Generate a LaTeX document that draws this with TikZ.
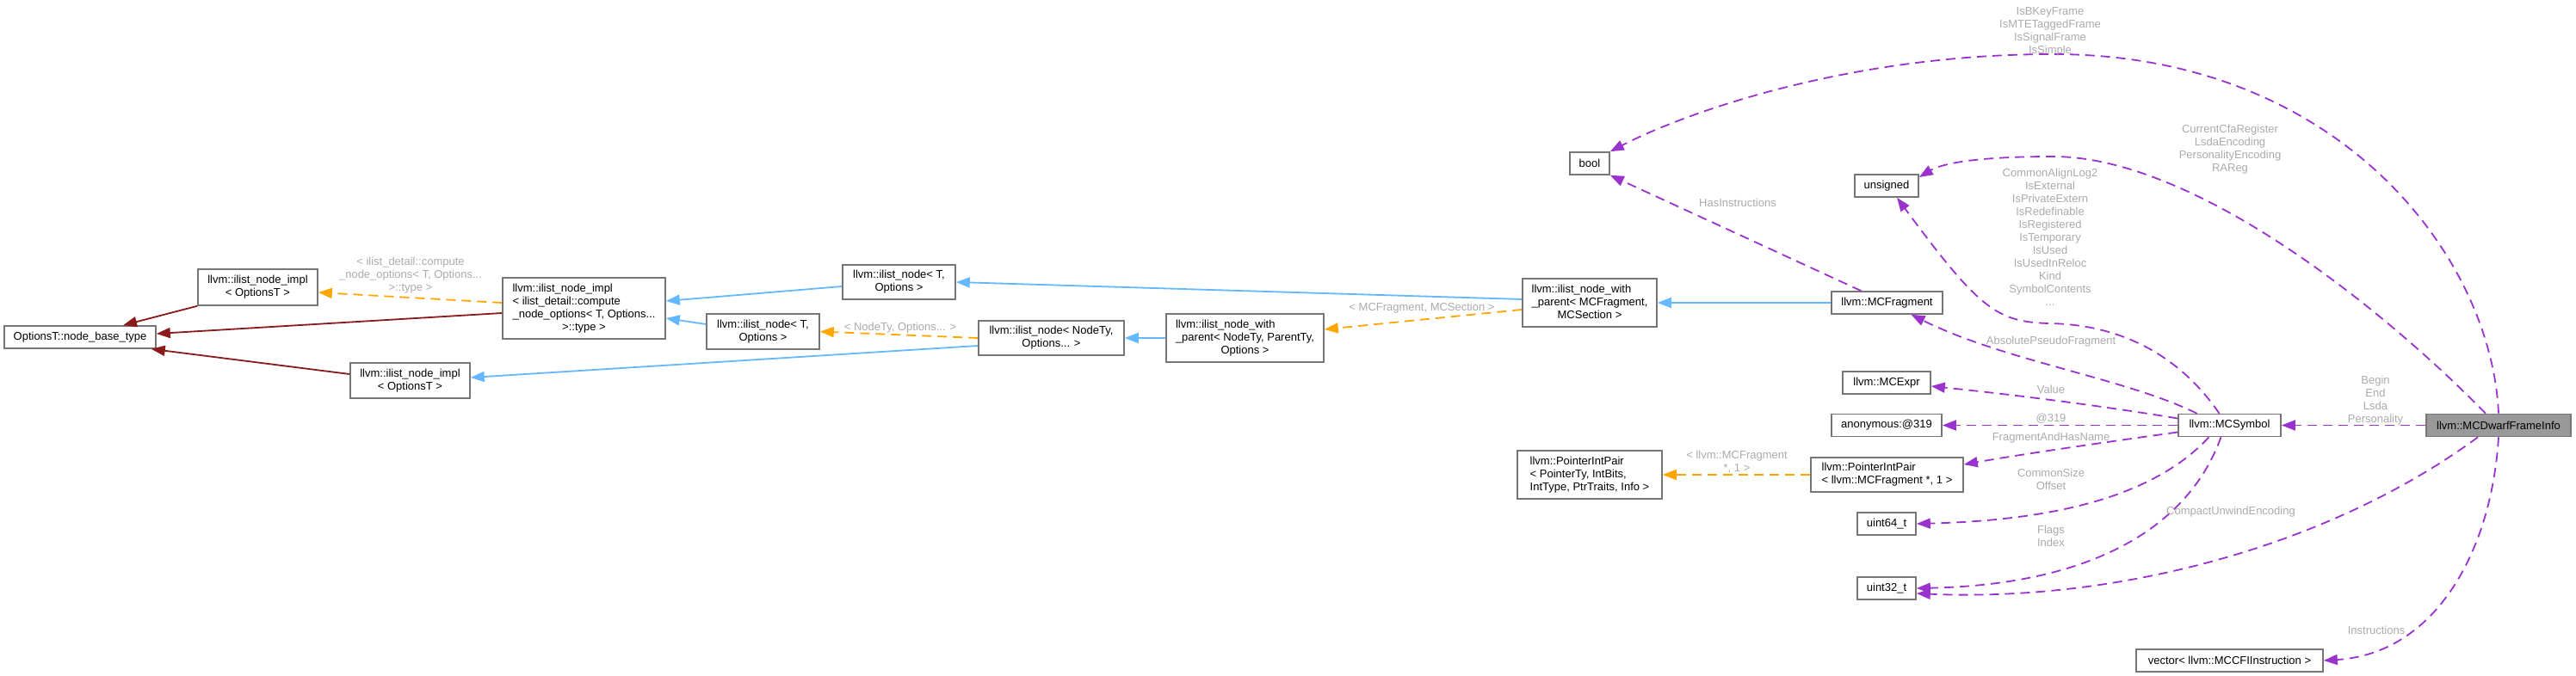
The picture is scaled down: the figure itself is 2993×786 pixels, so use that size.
\documentclass[tikz,border=0pt]{standalone}
\usepackage{fontspec}
\setmainfont{Liberation Sans}
\usetikzlibrary{arrows.meta}
\definecolor{eblue}{HTML}{63B8FF}
\definecolor{ered}{HTML}{8B1A1A}
\definecolor{eorange}{HTML}{FFA500}
\definecolor{epurple}{HTML}{9A32CD}
\definecolor{lblgray}{HTML}{ABABAB}
\definecolor{boxline}{HTML}{767676}
\definecolor{hifill}{HTML}{999999}
\newcommand\dgfont{\fontsize{6.5}{7.5}\selectfont}
\newcommand\lt[1]{\begin{tabular}{@{}l@{}}#1\end{tabular}}
\begin{document}
\begin{tikzpicture}[x=0.5pt,y=-0.5pt,
  box/.style={draw=boxline, line width=0.8pt, fill=white, inner sep=0pt, font=\dgfont, align=center},
  lbl/.style={font=\dgfont, text=lblgray, align=center, inner sep=0pt},
  edge/.style={line width=0.9pt, -{Triangle[length=8pt,width=6pt]}},
  pubinh/.style={edge, draw=eblue},
  privinh/.style={edge, draw=ered},
  tmpl/.style={edge, draw=eorange, dash pattern=on 5.5pt off 3.5pt},
  usage/.style={edge, draw=epurple, dash pattern=on 5.5pt off 3.5pt},
]
\useasboundingbox (0,0) rectangle (2993,786);
\fill[white] (0,0) rectangle (2993,786);

% nodes
\node[box, minimum width=88pt, minimum height=13pt] (A) at (93,392) {OptionsT::node\_base\_type};
\node[box, minimum width=69.5pt, minimum height=21pt] (B) at (299.5,334) {llvm::ilist\_node\_impl\\< OptionsT >};
\node[box, minimum width=94.5pt, minimum height=35.5pt] (C) at (678.5,358.5) {\begin{tabular}{@{}l@{}}llvm::ilist\_node\_impl\\< ilist\_detail::compute\\\_node\_options< T, Options...\\\multicolumn{1}{@{}c@{}}{>::type >}\end{tabular}};
\node[box, minimum width=69.5pt, minimum height=20.5pt] (D) at (476.5,442.5) {llvm::ilist\_node\_impl\\< OptionsT >};
\node[box, minimum width=65.5pt, minimum height=20pt] (E) at (1044.5,328) {llvm::ilist\_node< T,\\Options >};
\node[box, minimum width=65.5pt, minimum height=20.5pt] (F) at (886.5,385.5) {llvm::ilist\_node< T,\\Options >};
\node[box, minimum width=84.5pt, minimum height=20pt] (G) at (1221.5,393) {llvm::ilist\_node< NodeTy,\\Options... >};
\node[box, minimum width=91.5pt, minimum height=28pt] (H) at (1446.5,393) {\begin{tabular}{@{}l@{}}llvm::ilist\_node\_with\\\_parent< NodeTy, ParentTy,\\\multicolumn{1}{@{}c@{}}{Options >}\end{tabular}};
\node[box, minimum width=78pt, minimum height=28pt] (I) at (1847,352) {\begin{tabular}{@{}l@{}}llvm::ilist\_node\_with\\\_parent< MCFragment,\\\multicolumn{1}{@{}c@{}}{MCSection >}\end{tabular}};
\node[box, minimum width=23pt, minimum height=13pt] (J) at (1847,190) {bool};
\node[box, minimum width=37pt, minimum height=13pt] (K) at (2192,216) {unsigned};
\node[box, minimum width=64.5pt, minimum height=13pt] (L) at (2192.5,352) {llvm::MCFragment};
\node[box, minimum width=51pt, minimum height=13pt] (M) at (2192,445) {llvm::MCExpr};
\node[box, minimum width=64pt, minimum height=13pt] (N) at (2192,494.5) {anonymous:@319};
\node[box, minimum width=84pt, minimum height=28pt] (O) at (1847,552) {\begin{tabular}{@{}l@{}}llvm::PointerIntPair\\< PointerTy, IntBits,\\\multicolumn{1}{@{}c@{}}{IntType, PtrTraits, Info >}\end{tabular}};
\node[box, minimum width=88.5pt, minimum height=20pt] (P) at (2192.5,552) {\begin{tabular}{@{}l@{}}llvm::PointerIntPair\\< llvm::MCFragment *, 1 >\end{tabular}};
\node[box, minimum width=34pt, minimum height=13pt] (Q) at (2192,609) {uint64\_t};
\node[box, minimum width=34pt, minimum height=13pt] (R) at (2192,684) {uint32\_t};
\node[box, minimum width=59.5pt, minimum height=13pt] (S) at (2590.5,494.5) {llvm::MCSymbol};
\node[box, fill=hifill, minimum width=84pt, minimum height=13pt] (T) at (2903,494.5) {llvm::MCDwarfFrameInfo};
\node[box, minimum width=108.5pt, minimum height=13pt] (U) at (2590.5,768) {vector< llvm::MCCFIInstruction >};

% private inheritance
\draw[privinh] (B.south west) -- ([xshift=25pt]A.north);
\draw[privinh] ([yshift=-2.75pt]C.west) -- ([yshift=2pt]A.east);
\draw[privinh] ([yshift=3.75pt]D.west) -- ([xshift=-3pt]A.south east);

% public inheritance
\draw[pubinh] ([yshift=-2.5pt]E.west) -- ([yshift=4.25pt]C.east);
\draw[pubinh] ([yshift=4.25pt]F.west) -- ([yshift=-5.75pt]C.east);
\draw[pubinh] ([yshift=-4.5pt]G.west) -- ([yshift=1.75pt]D.east);
\draw[pubinh] (H.west) -- (G.east);
\draw[pubinh] ([yshift=2pt]I.west) -- (E.east);
\draw[pubinh] (L.west) -- (I.east);

% template instances
\draw[tmpl] ([yshift=3.25pt]C.west) -- ([yshift=-3pt]B.east);
\draw[tmpl] (G.west) -- (F.east);
\draw[tmpl] ([yshift=-4pt]I.west) -- ([yshift=5pt]H.east);
\draw[tmpl] (P.west) -- (O.east);

% usage
\draw[usage] (T.north) .. controls (2895,300) and (2720,63) .. (2385,63) .. controls (2150,63) and (1960,130) .. (J.north east);
\draw[usage] ([xshift=-7.5pt]T.north) .. controls (2770,360) and (2550,182) .. (2385,182) .. controls (2310,182) and (2260,188) .. ([yshift=5pt]K.east);
\draw[usage] (T.west) -- (S.east);
\draw[usage] ([xshift=-12pt]T.south) .. controls (2700,640) and (2450,700) .. ([yshift=-3pt]R.east);
\draw[usage] (T.south) .. controls (2895,640) and (2830,760) .. (U.east);
\draw[usage] ([xshift=-15pt]L.north) -- (J.south east);
\draw[usage] ([xshift=-6pt]S.north) .. controls (2530,410) and (2460,377) .. (2380,376) .. controls (2320,374) and (2300,360) .. ([xshift=6pt]K.south);
\draw[usage] ([xshift=-19pt]S.north) .. controls (2470,440) and (2330,420) .. ([xshift=14pt]L.south);
\draw[usage] ([yshift=4pt]S.west) .. controls (2430,470) and (2330,458) .. ([yshift=-2pt]M.east);
\draw[usage] (S.west) -- (N.east);
\draw[usage] ([yshift=-4pt]S.west) .. controls (2440,515) and (2350,528) .. ([yshift=6pt]P.east);
\draw[usage] ([xshift=-12pt]S.south) .. controls (2500,580) and (2380,605) .. (Q.east);
\draw[usage] ([xshift=-5pt]S.south) .. controls (2540,620) and (2420,680) .. (R.east);

% edge labels
\node[lbl] (l1) at (2382,36.5) {IsBKeyFrame\\IsMTETaggedFrame\\IsSignalFrame\\IsSimple};
\node[lbl] (l2) at (2591,173.5) {CurrentCfaRegister\\LsdaEncoding\\PersonalityEncoding\\RAReg};
\node[lbl] (l3) at (2382,276) {CommonAlignLog2\\IsExternal\\IsPrivateExtern\\IsRedefinable\\IsRegistered\\IsTemporary\\IsUsed\\IsUsedInReloc\\Kind\\SymbolContents\\...};
\node[lbl] (l4) at (2019,236) {HasInstructions};
\node[lbl] (l5) at (2383,397) {AbsolutePseudoFragment};
\node[lbl] (l6) at (2383,453) {Value};
\node[lbl] (l7) at (2383,487) {@319};
\node[lbl] (l8) at (2383,509) {FragmentAndHasName};
\node[lbl] (l9) at (2383,557.5) {CommonSize\\Offset};
\node[lbl] (l10) at (2383,623.5) {Flags\\Index};
\node[lbl] (l11) at (2592,595) {CompactUnwindEncoding};
\node[lbl] (l12) at (2760,465.5) {Begin\\End\\Lsda\\Personality};
\node[lbl] (l13) at (2761,733) {Instructions};
\node[lbl] (l14) at (477,320) {< ilist\_detail::compute\\\_node\_options< T, Options...\\>::type >};
\node[lbl] (l15) at (1046,381) {< NodeTy, Options... >};
\node[lbl] (l16) at (1652,358) {< MCFragment, MCSection >};
\node[lbl] (l17) at (2018,537.5) {< llvm::MCFragment\\ *, 1 >};
\end{tikzpicture}
\end{document}
